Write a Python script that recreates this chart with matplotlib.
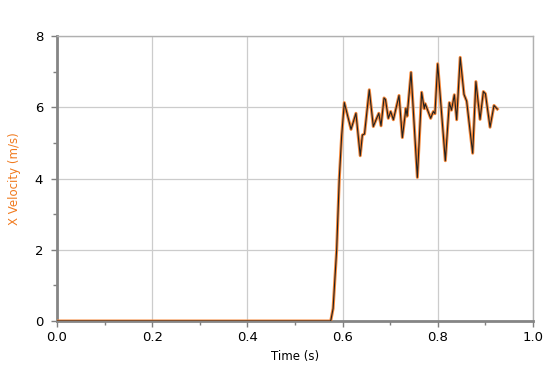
import numpy as np
import matplotlib.pyplot as plt
from matplotlib.ticker import MultipleLocator

# Time (s) and X velocity (m/s)
time = [0.0, 0.575, 0.580, 0.5875, 0.593, 0.598, 0.6036, 0.6177, 0.628, 0.637, 0.6415,
        0.646, 0.656, 0.6645, 0.6715, 0.676, 0.6807, 0.687, 0.690, 0.696, 0.701,
        0.7066, 0.7185, 0.7255, 0.733, 0.7355, 0.7437, 0.757, 0.766, 0.7715,
        0.7735, 0.785, 0.7905, 0.794, 0.7997, 0.8158, 0.8242, 0.8287, 0.8347,
        0.8396, 0.847, 0.855, 0.8606, 0.8732, 0.880, 0.8887, 0.8957, 0.900,
        0.9097, 0.918, 0.925]
velocity = [0.0, 0.0, 0.35, 2.0, 4.0, 5.2, 6.13, 5.38, 5.83, 4.64, 5.22,
            5.25, 6.49, 5.46, 5.69, 5.83, 5.48, 6.26, 6.22, 5.69, 5.88,
            5.65, 6.33, 5.15, 5.97, 5.75, 6.98, 4.03, 6.42, 5.96,
            6.1, 5.69, 5.88, 5.82, 7.22, 4.5, 6.13, 5.92, 6.35,
            5.65, 7.4, 6.36, 6.17, 4.71, 6.72, 5.66, 6.44, 6.38,
            5.44, 6.05, 5.95]

fig = plt.figure(figsize=(5.55, 3.7), dpi=100)
ax = fig.add_axes([0.1027, 0.1324, 0.8577, 0.7703])

# orange halo under a thin dark line
ax.plot(time, velocity, color='#f5883a', linewidth=2.2, solid_joinstyle='round', zorder=3)
ax.plot(time, velocity, color='#222222', linewidth=0.8, solid_joinstyle='round', zorder=4)

ax.set_xlim(0, 1.0)
ax.set_ylim(0, 8)
ax.xaxis.set_major_locator(MultipleLocator(0.2))
ax.xaxis.set_minor_locator(MultipleLocator(0.1))
ax.yaxis.set_major_locator(MultipleLocator(2))
ax.yaxis.set_minor_locator(MultipleLocator(1))
ax.set_xticklabels([f'{v:.1f}' for v in ax.get_xticks()])

ax.grid(True, which='major', color='#cccccc', linewidth=0.9)
ax.set_axisbelow(True)

for side in ['left', 'bottom']:
    ax.spines[side].set_color('#858585')
    ax.spines[side].set_linewidth(2)
for side in ['top', 'right']:
    ax.spines[side].set_color('#b0b0b0')
    ax.spines[side].set_linewidth(1)

ax.tick_params(which='both', direction='out', colors='#7f7f7f', labelcolor='black',
               labelsize=9.5)
ax.tick_params(which='major', length=4, width=1)
ax.tick_params(which='minor', length=3, width=1)
ax.tick_params(axis='y', pad=6)

ax.set_xlabel('Time (s)', fontsize=8.5, labelpad=4)
ax.set_ylabel('X Velocity (m/s)', fontsize=8.5, color='#f07a1e')
ax.yaxis.set_label_coords(-0.076, 0.5)

fig.savefig('out.png', dpi=100)
